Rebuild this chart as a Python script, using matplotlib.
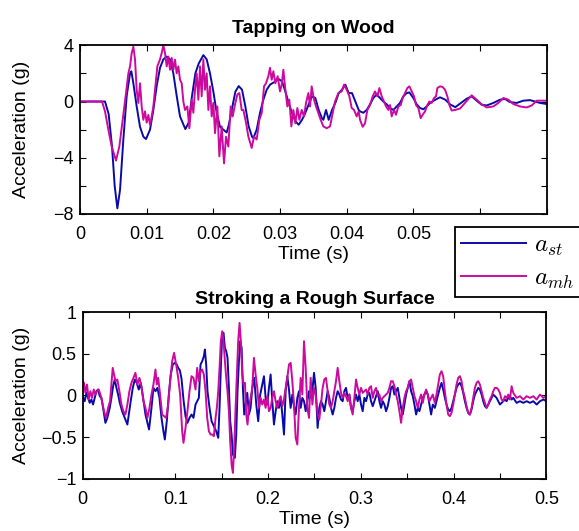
import matplotlib
matplotlib.use("Agg")
import matplotlib.pyplot as plt

# ---------------------------------------------------------------
# Data
# ---------------------------------------------------------------

# Tapping on wood: a_st (blue)
t_tap_st = [
    0, 0.002, 0.00375, 0.0043, 0.0048, 0.0052, 0.0056, 0.0060, 0.0065, 0.0070,
    0.0075, 0.0077, 0.0080, 0.0085, 0.0090, 0.0095, 0.0099, 0.0105, 0.0110, 0.0115,
    0.0120, 0.0125, 0.0130, 0.0135, 0.0140, 0.0145, 0.0150, 0.0158, 0.0163, 0.0168,
    0.0173, 0.0178, 0.0185, 0.0190, 0.0195, 0.0200, 0.0205, 0.0210, 0.0215, 0.0220,
    0.0223, 0.0228, 0.0233, 0.0238, 0.0243, 0.0248, 0.0253, 0.0258, 0.0260, 0.0265,
    0.0270, 0.0275, 0.0280, 0.0285, 0.0293, 0.0298, 0.0303, 0.0308, 0.0313, 0.0318,
    0.0323, 0.0328, 0.0333, 0.0338, 0.0343, 0.0348, 0.0353, 0.0358, 0.0363, 0.0365,
    0.0369, 0.0373, 0.0378, 0.0383, 0.0388, 0.0393, 0.0398, 0.0403, 0.0408, 0.0413,
    0.0418, 0.0420, 0.0425, 0.0430, 0.0435, 0.0440, 0.0445, 0.0450, 0.0455, 0.0460,
    0.0465, 0.0470, 0.0475, 0.0480, 0.0485, 0.0490, 0.0494, 0.0500, 0.0505, 0.0510,
    0.0515, 0.0520, 0.0525, 0.0533, 0.0540, 0.0548, 0.0555, 0.0563, 0.0570, 0.0580,
    0.05875, 0.0595, 0.06025, 0.0610, 0.0620, 0.0630, 0.06375, 0.0645, 0.0655, 0.0665,
    0.0675, 0.06825, 0.0690, 0.0700,
]
a_tap_st = [
    0, 0, 0, -0.9, -3.2, -6.0, -7.6, -6.3, -2.7, 0.4,
    2.0, 2.15, 1.3, -0.35, -1.8, -2.5, -2.67, -2.0, -0.6, 1.1,
    2.4, 3.0, 3.2, 3.0, 2.0, 0.4, -1.06, -1.96, -1.5, 0.4,
    2.0, 2.7, 3.3, 3.0, 2.0, 0.7, -0.8, -1.8, -2.0, -2.2,
    -1.7, -0.5, 0.7, 1.1, 0.84, -0.35, -1.77, -2.5, -2.6, -2.0,
    -0.8, 0.13, 0.84, 1.2, 1.43, 1.6, 1.43, 0.72, -0.1, -0.82,
    -1.4, -1.65, -1.3, -0.8, -0.2, 0.37, 0.25, -0.6, -1.2, -1.3,
    -0.6, -1.3, -0.6, -0.1, 0.6, 0.84, 1.2, 0.6, 0.6, 0.0,
    -0.6, -0.7, -0.8, -0.6, -0.2, 0.25, 0.5, 0.25, 0.0, -0.2,
    -0.46, -0.6, -0.35, -0.1, 0.37, 0.6, 0.65, 0.25, -0.2, -0.46,
    -0.55, -0.35, -0.1, 0.13, 0.3, 0.13, -0.2, -0.4, -0.15, 0.2,
    0.37, 0.06, -0.23, -0.28, -0.1, 0.13, 0.18, -0.04, -0.1, 0.06,
    0.1, 0.0, -0.1, -0.18,
]

# Tapping on wood: a_mh (magenta)
t_tap_mh = [
    0, 0.002, 0.0033, 0.00375, 0.00425, 0.00475, 0.0054, 0.0059, 0.0064, 0.0069,
    0.00725, 0.0075, 0.00775, 0.0080, 0.00825, 0.0085, 0.00875, 0.0090, 0.00925, 0.0095,
    0.00975, 0.0100, 0.01025, 0.0105, 0.01075, 0.0110, 0.01125, 0.0116, 0.0120, 0.01225,
    0.0125, 0.01275, 0.0130, 0.01325, 0.0135, 0.01375, 0.0140, 0.01425, 0.0145, 0.01475,
    0.0150, 0.01525, 0.0155, 0.01575, 0.0161, 0.0164, 0.01675, 0.0170, 0.01725, 0.0175,
    0.01775, 0.0180, 0.01825, 0.0185, 0.01875, 0.0190, 0.01925, 0.0195, 0.01975, 0.0200,
    0.02025, 0.0206, 0.0209, 0.02125, 0.0216, 0.0219, 0.02225, 0.0226, 0.0229, 0.02325,
    0.0236, 0.0239, 0.02425, 0.0245, 0.0249, 0.02525, 0.02575, 0.0261, 0.0265, 0.0269,
    0.02725, 0.0276, 0.0279, 0.02825, 0.0285, 0.02875, 0.0290, 0.0293, 0.02965, 0.0300,
    0.03025, 0.0305, 0.0308, 0.0311, 0.0314, 0.0317, 0.0320, 0.0323, 0.0326, 0.0329,
    0.03325, 0.0336, 0.0339, 0.03425, 0.0345, 0.03475, 0.0351, 0.0354, 0.03575, 0.0361,
    0.0365, 0.0370, 0.0375, 0.0379, 0.03825, 0.03875, 0.03925, 0.0396, 0.0400, 0.0404,
    0.04075, 0.0411, 0.0415, 0.0418, 0.0420, 0.0424, 0.04275, 0.0431, 0.0435, 0.0439,
    0.04425, 0.0446, 0.0449, 0.04525, 0.0456, 0.0459, 0.04625, 0.0465, 0.04675, 0.0471,
    0.0474, 0.04775, 0.0481, 0.0484, 0.04875, 0.0491, 0.0494, 0.04975, 0.0501, 0.0504,
    0.05075, 0.0511, 0.0514, 0.05175, 0.0521, 0.0524, 0.05275, 0.0531, 0.0534, 0.0536,
    0.0540, 0.0544, 0.05475, 0.0551, 0.0554, 0.05575, 0.05625, 0.0570, 0.05775, 0.05875,
    0.0595, 0.06025, 0.0610, 0.0620, 0.06275, 0.0635, 0.06425, 0.0650, 0.0660, 0.0670,
    0.06775, 0.0685, 0.0700,
]
a_tap_mh = [
    0, 0, 0, -0.7, -2.0, -3.2, -4.2, -3.2, -1.3, 0.6,
    2.0, 2.5, 3.45, 3.9, 3.0, 0.84, -0.1, 1.3, -0.35, -1.3,
    -0.7, -1.5, -0.95, -1.65, -1.06, -0.35, 0.84, 2.5, 3.0, 3.45,
    4.0, 3.45, 2.5, 3.2, 2.26, 3.1, 2.26, 2.98, 2.0, 2.5,
    1.55, 1.3, 0.0, -0.6, -0.35, -1.9, 0.13, -0.8, 0.84, 2.0,
    0.13, 2.5, 0.37, 3.0, 0.84, 2.0, -0.6, 1.08, -1.06, -0.1,
    -2.25, -0.35, -3.9, -1.77, -4.4, -2.5, -3.2, -0.35, -1.06, -0.2,
    0.5, 0.6, -0.6, -0.6, -1.5, -2.5, -3.3, -2.5, -2.7, -1.3,
    -0.82, 1.08, 1.3, 1.8, 2.4, 1.55, 2.15, 1.3, 1.8, 0.72,
    1.2, 2.26, 0.84, -0.35, 0.13, -1.77, -0.6, -1.55, -0.46, -1.3,
    -0.6, -1.06, -0.1, 0.6, -0.35, 1.08, 0.13, -0.35, -0.82, -1.3,
    -1.77, -1.9, -1.77, -0.82, 0.0, 0.6, 0.72, 1.2, 0.84, 0.37,
    -0.46, -0.6, -1.06, -0.7, -1.3, -1.8, -1.55, -0.6, -0.25, 0.37,
    0.72, 0.37, 0.96, 0.37, 0.0, -0.35, -0.6, -0.25, -1.06, -0.6,
    -0.94, -0.35, -0.25, 0.25, 0.6, 0.96, 1.08, 0.72, 0.37, -0.25,
    -0.46, -1.18, -0.94, -0.7, -0.25, 0.0, -0.1, 0.25, 0.37, 0.96,
    1.08, 1.03, 0.84, 0.37, -0.25, -0.64, -0.6, -0.5, -0.1, 0.44,
    0.13, -0.2, -0.42, -0.35, -0.1, 0.25, 0.13, -0.18, -0.35, -0.42,
    -0.28, 0.06, 0.06,
]

# Stroking a rough surface, first part (different sample times per trace)
t_rough_early_st = [
    0.0000, 0.0022, 0.0040, 0.0058, 0.0076, 0.0094, 0.0112, 0.0130, 0.0148, 0.0166,
    0.0184, 0.0202, 0.0220, 0.0245, 0.0266, 0.0292, 0.0310, 0.0328, 0.0346, 0.0364,
    0.0382, 0.0400, 0.0425, 0.0454, 0.0482, 0.0497, 0.0518, 0.0540, 0.0562, 0.0583,
    0.0605, 0.0626, 0.0652, 0.0677, 0.0698, 0.0716, 0.0742, 0.0763, 0.0785, 0.0806,
    0.0828, 0.0850, 0.0871, 0.0886, 0.0907, 0.0929, 0.0950, 0.0972, 0.0994, 0.1015,
    0.1030, 0.1048, 0.1066, 0.1087, 0.1109, 0.1130, 0.1152, 0.1174, 0.1195, 0.1217,
    0.1253, 0.1271, 0.1289, 0.1307, 0.1318, 0.1332, 0.1346, 0.1368, 0.1390, 0.1415,
    0.1440, 0.1462, 0.1476, 0.1490, 0.1505, 0.1519, 0.1534, 0.1548, 0.1562, 0.1577,
    0.1591, 0.1606, 0.1620, 0.1641, 0.1656, 0.1670, 0.1685, 0.1699, 0.1714, 0.1728,
    0.1742, 0.1757, 0.1775, 0.1793, 0.1811, 0.1829, 0.1850, 0.1872, 0.1893, 0.1915,
    0.1937, 0.1955, 0.1973, 0.1991, 0.2009, 0.2027, 0.2045, 0.2063, 0.2081, 0.2099,
    0.2117, 0.2135, 0.2153, 0.2171, 0.2189, 0.2207, 0.2225, 0.2243, 0.2261, 0.2279,
    0.2297, 0.2315, 0.2333, 0.2351, 0.2369, 0.2387, 0.2405, 0.2423, 0.2441, 0.2459,
    0.2477, 0.2495, 0.2513,
]
a_rough_early_st = [
    -0.01, -0.07, 0.03, -0.03, -0.09, -0.05, -0.11, -0.03, 0.05, 0.07,
    -0.01, -0.03, -0.15, -0.33, -0.27, -0.15, -0.03, 0.11, 0.19, 0.09,
    0.01, -0.09, -0.19, -0.27, -0.35, -0.23, -0.07, 0.09, 0.19, 0.15,
    0.07, 0.15, -0.03, -0.23, -0.33, -0.41, -0.15, 0.09, 0.05, 0.09,
    -0.03, -0.27, -0.43, -0.53, -0.31, 0.01, 0.25, 0.37, 0.39, 0.37,
    0.33, 0.30, 0.2, -0.05, -0.25, -0.33, -0.27, -0.23, -0.27, -0.11,
    -0.03, 0.37, 0.41, 0.47, 0.55, 0.37, 0.05, -0.15, -0.31, -0.37,
    -0.43, -0.51, -0.15, 0.33, 0.73, 0.75, 0.57, 0.53, 0.45, 0.09,
    -0.31, -0.47, -0.71, -0.75, -0.47, 0.05, 0.41, 0.65, 0.57, 0.09,
    -0.23, -0.11, 0.03, -0.23, -0.15, 0.09, 0.21, -0.11, -0.31, 0.01,
    0.13, 0.23, -0.03, -0.11, 0.09, 0.25, -0.07, -0.35, -0.19, -0.07,
    -0.15, -0.03, -0.23, -0.47, 0.05, 0.23, 0.07, -0.15, 0.01, -0.13,
    -0.23, -0.03, 0.05, -0.15, -0.03, -0.07, -0.19, -0.07, 0.05, -0.03,
    0.05, 0.27, 0.09,
]

t_rough_early_mh = [
    0, 0.0014, 0.0029, 0.0047, 0.0065, 0.0083, 0.0101, 0.0119, 0.0137, 0.0155,
    0.0173, 0.0191, 0.0209, 0.0230, 0.0252, 0.0274, 0.0295, 0.0310, 0.0324, 0.0338,
    0.0353, 0.0374, 0.0396, 0.0418, 0.0439, 0.0461, 0.0482, 0.0504, 0.0526, 0.0547,
    0.0569, 0.0590, 0.0612, 0.0634, 0.0655, 0.0677, 0.0698, 0.0720, 0.0742, 0.0763,
    0.0785, 0.0799, 0.0814, 0.0835, 0.0857, 0.0878, 0.0900, 0.0922, 0.0943, 0.0965,
    0.0986, 0.1008, 0.1030, 0.1051, 0.1073, 0.1087, 0.1109, 0.1130, 0.1152, 0.1174,
    0.1195, 0.1217,
    0.1235, 0.1253, 0.1271, 0.1289, 0.1307, 0.1325, 0.1343, 0.1361, 0.1379, 0.1397,
    0.1415, 0.1433, 0.1447, 0.1462, 0.1476, 0.1490, 0.1505, 0.1519, 0.1534, 0.1548,
    0.1562, 0.1577, 0.1591, 0.1606, 0.1620, 0.1634, 0.1649, 0.1663, 0.1677, 0.1692,
    0.1706, 0.1721, 0.1735, 0.1750, 0.1764, 0.1778, 0.1793, 0.1811, 0.1829, 0.1847,
    0.1865, 0.1883, 0.1901, 0.1919, 0.1937, 0.1955, 0.1973, 0.1991, 0.2009, 0.2027,
    0.2045, 0.2063, 0.2081, 0.2099, 0.2117, 0.2135, 0.2153, 0.2171, 0.2189, 0.2207,
    0.2225, 0.2243, 0.2261, 0.2279, 0.2297, 0.2315, 0.2333, 0.2351, 0.2369, 0.2387,
    0.2405, 0.2423, 0.2441, 0.2459, 0.2477, 0.2495, 0.2513,
]
a_rough_early_mh = [
    0.17, 0.15, 0.03, 0.13, -0.05, 0.05, -0.03, 0.07, 0.01, 0.05,
    0.07, 0.01, -0.07, -0.19, -0.27, -0.15, -0.07, 0.13, 0.33, 0.25,
    0.17, 0.19, 0.05, -0.11, -0.19, -0.23, -0.11, 0.05, 0.15, 0.21,
    0.27, 0.13, 0.21, 0.11, -0.07, -0.15, -0.27, -0.15, 0.01, 0.13,
    0.31, 0.13, 0.21, 0.01, -0.23, -0.25, -0.27, -0.11, 0.17, 0.41,
    0.51, 0.37, 0.21, 0.01, -0.43, -0.57, -0.39, -0.19, 0.05, 0.23,
    0.21, 0.07,
    0.33, 0.17, 0.29, 0.31, 0.25, 0.05, -0.27, -0.43, -0.47, -0.47,
    -0.49, -0.27, -0.15, 0.05, 0.33, 0.65, 0.77, 0.65, 0.41, 0.21,
    0.05, -0.19, -0.55, -0.83, -0.93, -0.63, -0.15, 0.25, 0.65, 0.87,
    0.65, 0.25, 0.13, 0.15, -0.23, -0.35, -0.15, -0.03, 0.09, 0.45,
    0.25, 0.09, -0.15, -0.03, -0.11, -0.05, -0.15, -0.01, -0.19, -0.15,
    -0.03, 0.05, -0.07, -0.15, -0.07, -0.01, -0.13, -0.05, 0.09, 0.21,
    0.37, 0.39, 0.17, -0.11, -0.51, -0.59, -0.15, 0.21, 0.01, 0.65,
    0.33, -0.15, -0.27, 0.21, -0.11, 0.09, 0.01,
]

# Stroking a rough surface, second part (common sample times)
t_rough_late = [
    0.2534, 0.2552, 0.2570, 0.2588, 0.2606, 0.2624, 0.2642, 0.2660, 0.2678, 0.2696,
    0.2714, 0.2732, 0.2750, 0.2768, 0.2786, 0.2804, 0.2822, 0.2840, 0.2858, 0.2876,
    0.2894, 0.2912, 0.2930, 0.2948, 0.2966, 0.2984, 0.3002, 0.3020, 0.3038, 0.3056,
    0.3074, 0.3092, 0.3110, 0.3128, 0.3146, 0.3164, 0.3182, 0.3200, 0.3218, 0.3236,
    0.3254, 0.3272, 0.3290, 0.3308, 0.3326, 0.3344, 0.3362, 0.3380, 0.3398, 0.3416,
    0.3434, 0.3452, 0.3470, 0.3488, 0.3506, 0.3524, 0.3542, 0.3560, 0.3578, 0.3596,
    0.3614, 0.3632, 0.3650, 0.3668, 0.3686, 0.3704, 0.3722, 0.3740, 0.3758, 0.3776,
    0.3798, 0.3816, 0.3834, 0.3852, 0.3870, 0.3888, 0.3906, 0.3924, 0.3942, 0.3960,
    0.3978, 0.3996, 0.4014, 0.4032, 0.4050, 0.4068, 0.4086, 0.4104, 0.4122, 0.4140,
    0.4158, 0.4176, 0.4194, 0.4212, 0.4230, 0.4248, 0.4266, 0.4284, 0.4302, 0.4320,
    0.4338, 0.4356, 0.4374, 0.4392, 0.4410, 0.4428, 0.4446, 0.4464, 0.4482, 0.4500,
    0.4518, 0.4536, 0.4554, 0.4572, 0.4590, 0.4608, 0.4626, 0.4644, 0.4680, 0.4716,
    0.4752, 0.4788, 0.4824, 0.4860, 0.4896, 0.4932, 0.4968, 0.5000,
]
a_rough_late_st = [
    -0.39, -0.15, -0.07, -0.11, -0.19, -0.07, 0.05, -0.03, -0.15, -0.23,
    -0.15, -0.03, 0.05, 0.01, -0.05, -0.07, 0.05, 0.09, -0.03, 0.01,
    -0.15, -0.19, -0.07, 0.01, -0.07, 0.01, -0.11, -0.19, -0.03, -0.07,
    0.01, 0.03, -0.07, -0.13, -0.07, -0.01, 0.05, -0.07, -0.15, -0.07,
    -0.11, -0.19, -0.13, -0.03, 0.09, 0.11, 0.01, 0.05, 0.09, -0.03,
    -0.15, -0.23, -0.11, 0.01, 0.09, 0.17, 0.05, -0.01, -0.11, -0.23,
    -0.15, -0.19, -0.11, -0.03, 0.01, 0.05, 0.01, -0.11, -0.23, -0.11,
    -0.15, -0.07, 0.01, 0.09, 0.15, 0.07, -0.03, -0.11, -0.17, -0.19,
    -0.15, -0.07, 0.01, 0.09, 0.13, 0.15, 0.11, 0.03, -0.07, -0.15,
    -0.21, -0.23, -0.17, -0.07, 0.01, 0.05, 0.09, 0.07, 0.01, -0.07,
    -0.13, -0.15, -0.11, -0.07, -0.03, 0.01, -0.01, -0.03, -0.07, -0.11,
    -0.09, -0.07, -0.05, -0.07, -0.03, -0.01, -0.05, -0.03, -0.09, -0.07,
    -0.09, -0.07, -0.09, -0.07, -0.11, -0.07, -0.05, -0.07,
]
a_rough_late_mh = [
    -0.23, -0.29, -0.11, 0.09, 0.19, 0.21, 0.05, -0.11, -0.15, -0.07,
    0.05, 0.17, 0.33, 0.17, 0.03, -0.03, 0.03, -0.01, -0.07, 0.01,
    -0.15, -0.23, -0.03, 0.19, 0.09, 0.01, 0.09, 0.03, 0.05, 0.07,
    0.01, 0.09, 0.11, -0.03, 0.05, 0.09, -0.01, 0.01, -0.07, -0.03,
    -0.01, 0.01, 0.03, 0.09, 0.17, 0.17, 0.11, 0.01, -0.07, -0.19,
    -0.33, -0.15, -0.03, 0.05, 0.09, 0.17, 0.19, 0.09, -0.01, -0.07,
    -0.15, -0.05, 0.01, -0.09, 0.01, 0.07, 0.01, -0.07, -0.03, 0.01,
    -0.09, 0.01, 0.13, 0.25, 0.29, 0.23, 0.05, -0.11, -0.23, -0.25,
    -0.21, -0.11, 0.01, 0.13, 0.21, 0.23, 0.17, 0.05, -0.03, -0.13,
    -0.21, -0.23, -0.15, -0.03, 0.09, 0.15, 0.17, 0.13, 0.05, -0.03,
    -0.09, -0.15, -0.11, -0.05, -0.01, 0.05, 0.09, 0.09, 0.07, 0.03,
    -0.05, -0.07, -0.01, -0.03, 0.01, -0.05, 0.11, 0.03, -0.03, -0.01,
    -0.05, -0.01, -0.03, -0.01, -0.05, 0.01, -0.03, -0.01,
]

tap_xticks = [0, 0.01, 0.02, 0.03, 0.04, 0.05, 0.06, 0.07]
tap_xticklabels = ["0", "0.01", "0.02", "0.03", "0.04", "0.05", "", ""]
tap_yticks = [-8, -6, -4, -2, 0, 2, 4]
tap_yticklabels = ["\u22128", "", "\u22124", "", "0", "", "4"]

rough_xticks = [0, 0.05, 0.1, 0.15, 0.2, 0.25, 0.3, 0.35, 0.4, 0.45, 0.5]
rough_xticklabels = ["0", "", "0.1", "", "0.2", "", "0.3", "", "0.4", "", "0.5"]
rough_yticks = [-1, -0.5, 0, 0.5, 1]
rough_yticklabels = ["\u22121", "\u22120.5", "0", "0.5", "1"]

legend_labels = ["$a_{st}$", "$a_{mh}$"]

# ---------------------------------------------------------------
# Style
# ---------------------------------------------------------------

BLUE = "#0a0aa8"
MAGENTA = "#cc0a9e"
TICK_SIZE = 13
LABEL_SIZE = 14

plt.rcParams["font.family"] = ["Liberation Sans", "DejaVu Sans"]
plt.rcParams["mathtext.fontset"] = "cm"

fig = plt.figure(figsize=(5.79, 5.31), dpi=100)
ax1 = fig.add_axes([0.1382, 0.5970, 0.8060, 0.3177])
ax2 = fig.add_axes([0.1428, 0.0985, 0.8007, 0.3139])


def style_axes(ax):
    for side in ax.spines.values():
        side.set_linewidth(1.3)
        side.set_color("black")
    ax.tick_params(direction="in", top=True, right=True, length=4.5,
                   width=0.8, labelsize=TICK_SIZE, colors="black")
    ax.tick_params(axis="y", pad=4.5)
    ax.tick_params(axis="x", pad=9)


# --- Top: tapping on wood ---
line_st, = ax1.plot(t_tap_st, a_tap_st, color=BLUE, linewidth=1.4)
line_mh, = ax1.plot(t_tap_mh, a_tap_mh, color=MAGENTA, linewidth=1.4)
ax1.set_xlim(0, 0.07)
ax1.set_ylim(-8, 4)
ax1.set_xticks(tap_xticks)
ax1.set_xticklabels(tap_xticklabels)
ax1.set_yticks(tap_yticks)
ax1.set_yticklabels(tap_yticklabels)
ax1.set_xlabel("Time (s)", fontsize=LABEL_SIZE)
ax1.set_ylabel("Acceleration (g)", fontsize=LABEL_SIZE)
ax1.xaxis.set_label_coords(0.5, -0.19)
ax1.yaxis.set_label_coords(-0.107, 0.5)
ax1.set_title("Tapping on Wood", fontsize=LABEL_SIZE, fontweight="bold", pad=9)
style_axes(ax1)

# --- Bottom: stroking a rough surface ---
ax2.plot(t_rough_early_st + t_rough_late, a_rough_early_st + a_rough_late_st,
         color=BLUE, linewidth=1.4)
ax2.plot(t_rough_early_mh + t_rough_late, a_rough_early_mh + a_rough_late_mh,
         color=MAGENTA, linewidth=1.4)
ax2.set_xlim(0, 0.5)
ax2.set_ylim(-1, 1)
ax2.set_xticks(rough_xticks)
ax2.set_xticklabels(rough_xticklabels)
ax2.set_yticks(rough_yticks)
ax2.set_yticklabels(rough_yticklabels)
ax2.set_xlabel("Time (s)", fontsize=LABEL_SIZE)
ax2.set_ylabel("Acceleration (g)", fontsize=LABEL_SIZE)
ax2.xaxis.set_label_coords(0.5, -0.194)
ax2.yaxis.set_label_coords(-0.114, 0.5)
ax2.set_title("Stroking a Rough Surface", fontsize=LABEL_SIZE, fontweight="bold", pad=6)
style_axes(ax2)

# legend box sitting between the two panels
leg = ax1.legend([line_st, line_mh], legend_labels,
                 loc="upper left", bbox_to_anchor=(0.786, 0.573),
                 bbox_transform=fig.transFigure, borderaxespad=0,
                 fontsize=18, handlelength=2.6, handletextpad=0.3,
                 labelspacing=0.3, borderpad=0.25, fancybox=False,
                 framealpha=1, edgecolor="black")
leg.get_frame().set_linewidth(1.3)

fig.savefig("out.png", dpi=100)
